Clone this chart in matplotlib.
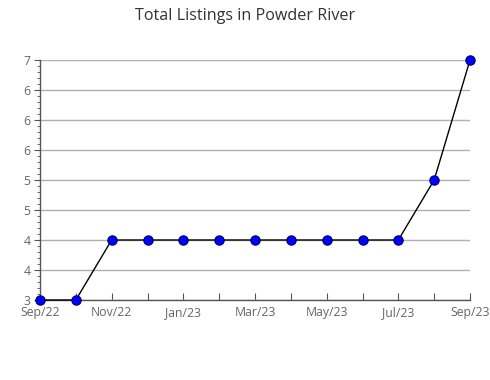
import matplotlib
matplotlib.use("Agg")
import matplotlib.pyplot as plt
from matplotlib.ticker import MultipleLocator, FixedLocator, FixedFormatter

months = ["Sep/22", "Oct/22", "Nov/22", "Dec/22", "Jan/23", "Feb/23", "Mar/23",
          "Apr/23", "May/23", "Jun/23", "Jul/23", "Aug/23", "Sep/23"]
listings = [3, 3, 4, 4, 4, 4, 4, 4, 4, 4, 4, 5, 7]
y_ticks = [3, 3.5, 4, 4.5, 5, 5.5, 6, 6.5, 7]
y_tick_labels = ["3", "4", "4", "5", "5", "6", "6", "6", "7"]
title = "Total Listings in Powder River"

plt.rcParams['font.family'] = ['Open Sans', 'DejaVu Sans']

fig = plt.figure(figsize=(4.9, 3.8), dpi=100)
ax = fig.add_axes([40/490, 80/380, 430/490, 240/380])

x = list(range(len(months)))
ax.plot(x, listings, color='black', linewidth=1, zorder=3, clip_on=False)
ax.scatter(x, listings, s=45, color='#0000ff', edgecolor='#000066', linewidth=0.8,
           zorder=4, clip_on=False)

ax.set_xlim(0, len(months) - 1)
ax.set_ylim(3, 7)
ax.yaxis.set_major_locator(FixedLocator(y_ticks))
ax.yaxis.set_major_formatter(FixedFormatter(y_tick_labels))
ax.yaxis.set_minor_locator(MultipleLocator(0.1))
ax.set_xticks(x)
ax.set_xticklabels([m if i % 2 == 0 else "" for i, m in enumerate(months)])

ax.grid(axis='y', color='#b0b0b0', linewidth=1)
ax.set_axisbelow(True)
for s in ['top', 'right']:
    ax.spines[s].set_visible(False)
for s in ['left', 'bottom']:
    ax.spines[s].set_color('#555555')
    ax.spines[s].set_linewidth(1)

ax.tick_params(axis='y', which='major', length=4, color='#555555', labelsize=8.8,
               labelcolor='#666666', pad=3)
ax.tick_params(axis='y', which='minor', length=2, color='#555555')
ax.tick_params(axis='x', which='major', direction='in', length=5, color='#555555',
               labelsize=8.8, labelcolor='#666666', pad=4.5)

fig.suptitle(title, y=1 - 16/380, fontsize=11.6, color='#333333', va='center')

fig.savefig("out.png", dpi=100, facecolor='white')
